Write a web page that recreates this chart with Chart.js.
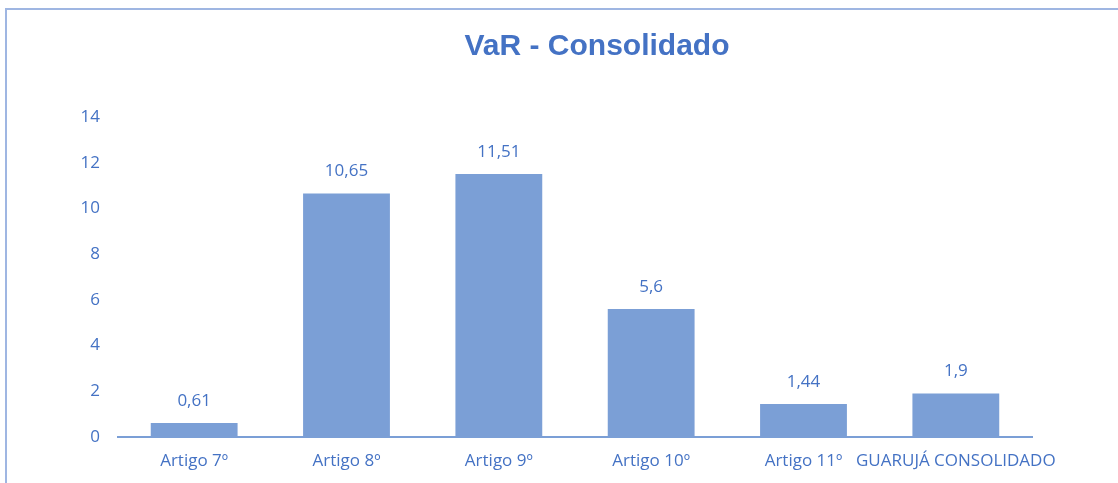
<!DOCTYPE html>
<html>
<head>
<meta charset="utf-8">
<script src="https://cdn.jsdelivr.net/npm/chart.js@4"></script>
<style>
  html, body { margin: 0; padding: 0; background: #fff; overflow: hidden; }
  #frame {
    position: absolute; left: 5px; top: 8px; width: 1200px; height: 600px;
    border-left: 2px solid #9fb6e2; border-top: 2px solid #9fb6e2;
  }
  #wrap { position: absolute; left: 0; top: 0; width: 1118px; height: 483px; }
</style>
</head>
<body>
<div id="frame"></div>
<div id="wrap"><canvas id="myChart"></canvas></div>
<script>
// --- Data ---
const categories = ["Artigo 7º", "Artigo 8º", "Artigo 9º", "Artigo 10º", "Artigo 11º", "GUARUJÁ CONSOLIDADO"];
const varValues = [0.61, 10.65, 11.51, 5.6, 1.44, 1.9];
const valueLabels = ["0,61", "10,65", "11,51", "5,6", "1,44", "1,9"];
const chartTitle = "VaR - Consolidado";

const textBlue = "#4472c4";
const barBlue = "#7b9fd6";
const tickFont = { family: "'Open Sans'", size: 17 };

// title sits over the whole frame, not just the plot, so draw it by hand
const titleText = {
    id: "titleText",
    afterDraw(chart) {
        const ctx = chart.ctx;
        ctx.save();
        ctx.font = "bold 30px 'Liberation Sans', Arial";
        ctx.fillStyle = textBlue;
        ctx.textAlign = "center";
        ctx.textBaseline = "middle";
        ctx.fillText(chartTitle, 597, 47);
        ctx.restore();
    }
};

// draws the value above each bar
const barLabels = {
    id: "barLabels",
    afterDatasetsDraw(chart) {
        const ctx = chart.ctx;
        const meta = chart.getDatasetMeta(0);
        ctx.save();
        ctx.font = "17px 'Open Sans'";
        ctx.fillStyle = textBlue;
        ctx.textAlign = "center";
        ctx.textBaseline = "middle";
        meta.data.forEach((bar, i) => {
            ctx.fillText(valueLabels[i], bar.x, bar.y - 22);
        });
        ctx.restore();
    }
};

const ctx = document.getElementById("myChart").getContext("2d");
new Chart(ctx, {
    type: "bar",
    data: {
        labels: categories,
        datasets: [{
            data: varValues,
            backgroundColor: barBlue,
            borderWidth: 0,
            categoryPercentage: 1,
            barPercentage: 0.57
        }]
    },
    options: {
        responsive: true,
        maintainAspectRatio: false,
        animation: false,
        layout: { padding: { left: 0, right: 86, top: 117, bottom: 0 } },
        plugins: {
            legend: { display: false },
            tooltip: { enabled: false },
            title: { display: false }
        },
        scales: {
            x: {
                grid: { display: false, drawTicks: false },
                border: { display: true, color: barBlue, width: 2 },
                ticks: {
                    color: textBlue,
                    font: tickFont,
                    padding: 14,
                    maxRotation: 0,
                    autoSkip: false
                },
                afterFit(scale) { scale.height = 46; }
            },
            y: {
                min: 0,
                max: 14,
                grid: { display: false, drawTicks: false },
                border: { display: false },
                ticks: {
                    stepSize: 2,
                    color: textBlue,
                    font: tickFont,
                    padding: 18
                },
                afterFit(scale) { scale.width = 118; }
            }
        }
    },
    plugins: [barLabels, titleText]
});
</script>
</body>
</html>
